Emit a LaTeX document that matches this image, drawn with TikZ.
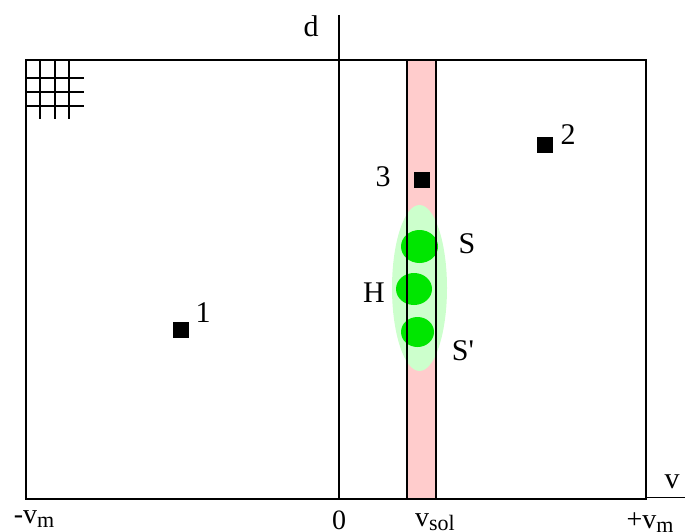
\documentclass[tikz,border=0pt]{standalone}
\usepackage{fontspec}
\setmainfont{Liberation Serif}
\definecolor{bandpink}{RGB}{255,204,204}
\definecolor{lightgreen}{RGB}{204,255,204}
\definecolor{dotgreen}{RGB}{0,230,0}
\newcommand\mysub[1]{\raisebox{-4pt}{\fontsize{22}{22}\selectfont #1}}
\begin{document}
\begin{tikzpicture}[x=1pt,y=-1pt,
  lbl/.style={inner sep=0pt,anchor=base,font=\fontsize{30}{32}\selectfont},
  blbl/.style={inner sep=0pt,anchor=base,font=\fontsize{28}{30}\selectfont},
  sq/.style={fill=black,minimum size=16pt,inner sep=0pt},
  ln/.style={line width=1.3pt}]
\useasboundingbox (0,0) rectangle (685,532);
% pink band
\fill[bandpink] (407,60) rectangle (436,499);
% ellipse
\fill[lightgreen] (419.5,288) ellipse (27.5 and 83);
% dots
\fill[dotgreen] (419.5,246.5) ellipse (18.5 and 16.5);
\fill[dotgreen] (414,289) ellipse (18 and 16);
\fill[dotgreen] (417.5,332) ellipse (16.5 and 15);
% band borders
\draw[ln] (407,60) -- (407,499);
\draw[ln] (436,60) -- (436,499);
% frame
\draw[ln] (26,60) rectangle (646,499);
% axes
\coordinate (dtop) at (339,15);
\coordinate (dbot) at (339,499);
\draw[ln] (dtop) -- (dbot);
\coordinate (vstart) at (646,497.5);
\coordinate (vend) at (685,497.5);
\draw[ln] (vstart) -- (vend);
% grid
\foreach \x in {40,55,69} \draw[ln] (\x,60) -- (\x,119);
\draw[ln] (26,60) -- (26,119);
\foreach \y in {78,92,106} \draw[ln] (26,\y) -- (84,\y);
% squares
\node[sq] (s1) at (181,330) {};
\node[sq] (s2) at (545,145) {};
\node[sq] (s3) at (422,180) {};
% labels
\node[lbl] (l1) at (203,322) {1};
\node[lbl] (l2) at (568,145) {2};
\node[lbl] (l3) at (383,186) {3};
\node[lbl] (lS) at (467,253) {S};
\node[lbl] (lH) at (374,302) {H};
\node[lbl] (lSp) at (463,360) {S\textquotesingle};
\node[lbl] (ld) at (311,37) {d};
\node[lbl] (lv) at (672,488) {v};
\node[blbl] (lvm) at (34,523) {-v\mysub{m}};
\node[blbl] (l0) at (339,529) {0};
\node[blbl] (lvs) at (435,526) {v\mysub{sol}};
\node[blbl] (lpvm) at (650,528) {+v\mysub{m}};
\end{tikzpicture}
\end{document}
